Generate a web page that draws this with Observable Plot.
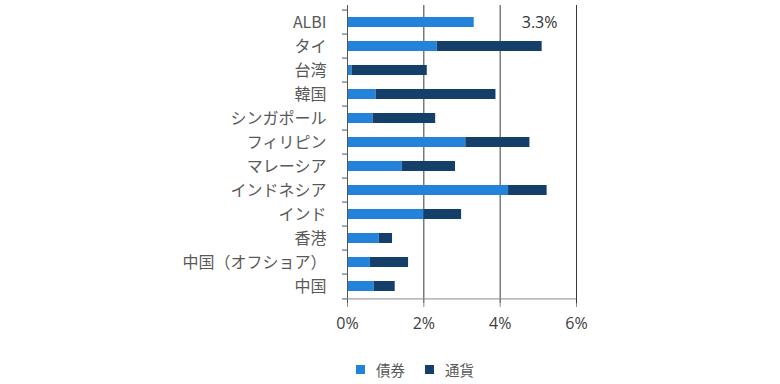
<!DOCTYPE html>
<html><head><meta charset="utf-8">
<script src="https://cdn.jsdelivr.net/npm/d3@7"></script>
<script src="https://cdn.jsdelivr.net/npm/@observablehq/plot@0.6"></script>
<style>
body{margin:0;background:#fff;font-family:"Noto Sans CJK JP","Noto Sans",sans-serif;}
#legend{display:flex;align-items:center;margin-left:356px;margin-top:9px;font-size:14.5px;color:#595959;}
#legend span.sw{display:inline-block;width:9px;height:9px;margin-right:11px;}
#legend span.lb{margin-right:20px;}
</style></head>
<body>
<div id="chart"></div>
<script>
const categories = ["ALBI","タイ","台湾","韓国","シンガポール","フィリピン","マレーシア","インドネシア","インド","香港","中国（オフショア）","中国"];
const bondValues = [3.32,2.35,0.12,0.75,0.67,3.10,1.43,4.22,2.00,0.83,0.60,0.70];
const currencyValues = [0,2.75,1.97,3.14,1.64,1.68,1.40,1.01,0.99,0.35,1.00,0.55];
const seriesNames = ["債券","通貨"];
const seriesColors = ["#2383da","#153f6b"];
const xTicks = [0,2,4,6];
const gridTicks = [2,4,6];
const albiLabel = "3.3%";

const rows = [];
categories.forEach((c,i)=>{
  rows.push({cat:c, series:seriesNames[0], value:bondValues[i]});
  rows.push({cat:c, series:seriesNames[1], value:currencyValues[i]});
});

const W=780, H=350, mT=5, mB=47, mL=347, mR=204;
const step = (H-mT-mB)/categories.length;
const last = categories[categories.length-1];

const chart = Plot.plot({
  width:W, height:H, marginTop:mT, marginBottom:mB, marginLeft:mL, marginRight:mR,
  style:{fontFamily:'"Noto Sans CJK JP","Noto Sans",sans-serif', background:"#fff"},
  x:{domain:[0,6], label:null},
  y:{domain:categories, paddingInner:0.6, paddingOuter:0.3, label:null},
  color:{domain:seriesNames, range:seriesColors},
  marks:[
    Plot.ruleX(gridTicks,{stroke:"#3a3a3a", strokeWidth:1}),
    Plot.barX(rows, Plot.stackX({x:"value", y:"cat", fill:"series", order:seriesNames})),
    Plot.ruleX([0],{stroke:"#555"}),
    Plot.ruleY([last],{x1:0,x2:6,dy:step/2,stroke:"#8a8a8a"}),
    Plot.axisX({ticks:xTicks, tickFormat:d=>d+"%", tickSize:4, tickPadding:10, fontSize:16, fill:"#404040", stroke:"#8a8a8a", fontFamily:'"Open Sans",sans-serif', label:null}),
    Plot.axisY({tickSize:0, tickPadding:21, fontSize:16, fill:"#595959", label:null}),
    Plot.axisY({tickSize:5, text:null, dy:-step/2, stroke:"#555", label:null}),
    Plot.axisY([last],{tickSize:5, text:null, dy:step/2, stroke:"#555", label:null}),
    Plot.text([albiLabel],{y:()=>categories[0], text:d=>d, frameAnchor:"right", textAnchor:"end", dx:-19, fontSize:16, fill:"#333", fontFamily:'"Open Sans",sans-serif'})
  ]
});
document.getElementById("chart").append(chart);

const lg = document.createElement("div");
lg.id="legend";
seriesNames.forEach((s,i)=>{
  const sw=document.createElement("span"); sw.className="sw"; sw.style.background=seriesColors[i];
  const lb=document.createElement("span"); lb.className="lb"; lb.textContent=s;
  lg.append(sw,lb);
});
document.body.append(lg);
</script>
</body></html>
